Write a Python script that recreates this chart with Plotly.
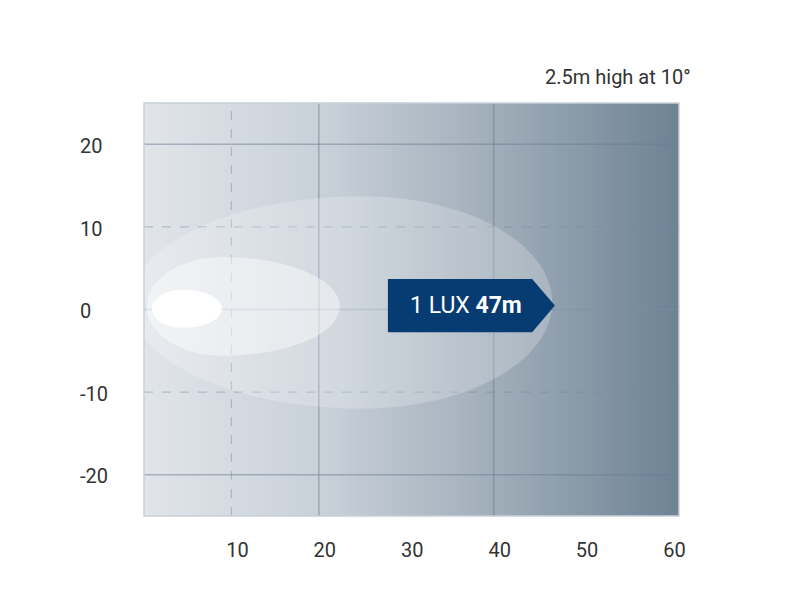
import plotly.graph_objects as go

# ---- data ----
x_ticks = [10, 20, 30, 40, 50, 60]
y_ticks = [20, 10, 0, -10, -20]
y_tick_labels = ["20", "10", "0", "-10", "-20"]

# beam contours (metres): left end, x of widest point, right end (reach), bottom, top
contour_names = ["outer (1 lux)", "middle", "inner"]
contour_left = [-1.5, 0.3, 0.9]
contour_peak_x = [25.0, 9.0, 4.5]
contour_right = [46.7, 22.4, 8.9]
contour_bottom = [-12.0, -5.6, -2.2]
contour_top = [13.7, 6.35, 2.4]
contour_fill = ["rgba(255,255,255,0.22)", "rgba(255,255,255,0.42)", "rgba(255,255,255,1)"]

lux_label = "1 LUX <b>47m</b>"
lux_reach = 47

solid_x = [20, 40]
dashed_x = [10]
solid_y = [20, 0, -20]
dashed_y = [10, -10]

x_range = [0, 61.2]
y_range = [-25, 25]

fig = go.Figure()

# background gradient
fig.add_trace(go.Heatmap(
    x=x_range, y=y_range, z=[[0, 1], [0, 1]], zsmooth="best",
    colorscale=[[0, "#e1e5ea"], [0.35, "#c7cfd7"], [0.7, "#9aa8b5"], [1, "#6d8294"]],
    showscale=False, hoverinfo="skip"))

shapes = []
grid_col = "rgba(105,125,148,0.5)"
dash_col = "rgba(115,135,158,0.42)"
for v in solid_x:
    shapes.append(dict(type="line", x0=v, x1=v, y0=y_range[0], y1=y_range[1],
                       line=dict(color=grid_col, width=1.5)))
for v in dashed_x:
    shapes.append(dict(type="line", x0=v, x1=v, y0=y_range[0], y1=y_range[1],
                       line=dict(color=dash_col, width=1.3, dash="dash")))
for v in solid_y:
    shapes.append(dict(type="line", x0=x_range[0], x1=x_range[1], y0=v, y1=v,
                       line=dict(color=grid_col if v != 0 else "rgba(125,145,165,0.4)", width=1.5)))
for v in dashed_y:
    shapes.append(dict(type="line", x0=x_range[0], x1=x_range[1], y0=v, y1=v,
                       line=dict(color=dash_col, width=1.3, dash="dash")))


def egg_path(xl, xp, xr, yb, yt, k=0.5523):
    cy = (yb + yt) / 2
    ry = (yt - yb) / 2
    rl = xp - xl
    rr = xr - xp
    return (f"M {xl},{cy} "
            f"C {xl},{cy + k*ry} {xp - k*rl},{yt} {xp},{yt} "
            f"C {xp + k*rr},{yt} {xr},{cy + k*ry} {xr},{cy} "
            f"C {xr},{cy - k*ry} {xp + k*rr},{yb} {xp},{yb} "
            f"C {xp - k*rl},{yb} {xl},{cy - k*ry} {xl},{cy} Z")


for l, p, r, b, t, c in zip(contour_left, contour_peak_x, contour_right,
                            contour_bottom, contour_top, contour_fill):
    shapes.append(dict(type="path", path=egg_path(l, p, r, b, t), fillcolor=c,
                       line=dict(width=0)))

# label box with arrow pointing at the 1 lux reach
bx0, bx1, by0, by1 = 27.9, lux_reach - 2.6, -2.75, 3.7
path = (f"M {bx0},{by0} L {bx0},{by1} L {bx1},{by1} L {lux_reach},{(by0+by1)/2} "
        f"L {bx1},{by0} Z")
shapes.append(dict(type="path", path=path, fillcolor="#063c72", line=dict(width=0)))

# plot border
shapes.append(dict(type="rect", xref="paper", yref="paper", x0=0, x1=1, y0=0, y1=1,
                   line=dict(color="#c8d0d8", width=1.5)))

annotations = [
    dict(x=36.8, y=(by0 + by1) / 2, text=lux_label, showarrow=False,
         font=dict(family="Roboto", size=23, color="white"), xanchor="center", yanchor="middle"),
    dict(x=1.027, y=1.062, xref="paper", yref="paper", text="2.5m high at 10°", showarrow=False,
         xanchor="right", yanchor="middle", font=dict(family="Roboto", size=20, color="#333333")),
]
for v, lab in zip(y_ticks, y_tick_labels):
    annotations.append(dict(x=-0.124, y=v - 0.2, xref="paper", yref="y", text=lab, showarrow=False,
                            xanchor="left", yanchor="middle",
                            font=dict(family="Roboto", size=20, color="#333333")))

fig.update_layout(
    width=800, height=600,
    margin=dict(l=136, r=129, t=95, b=92),
    paper_bgcolor="white", plot_bgcolor="white",
    shapes=shapes, annotations=annotations,
    xaxis=dict(range=x_range, tickvals=x_ticks, showgrid=False, zeroline=False,
               ticks="", ticklabelstandoff=20, ticklabelshift=6,
               tickfont=dict(family="Roboto", size=20, color="#333333")),
    yaxis=dict(range=y_range, tickvals=y_ticks, showticklabels=False, showgrid=False,
               zeroline=False, ticks=""),
    showlegend=False,
)

fig.write_html("out.html")
